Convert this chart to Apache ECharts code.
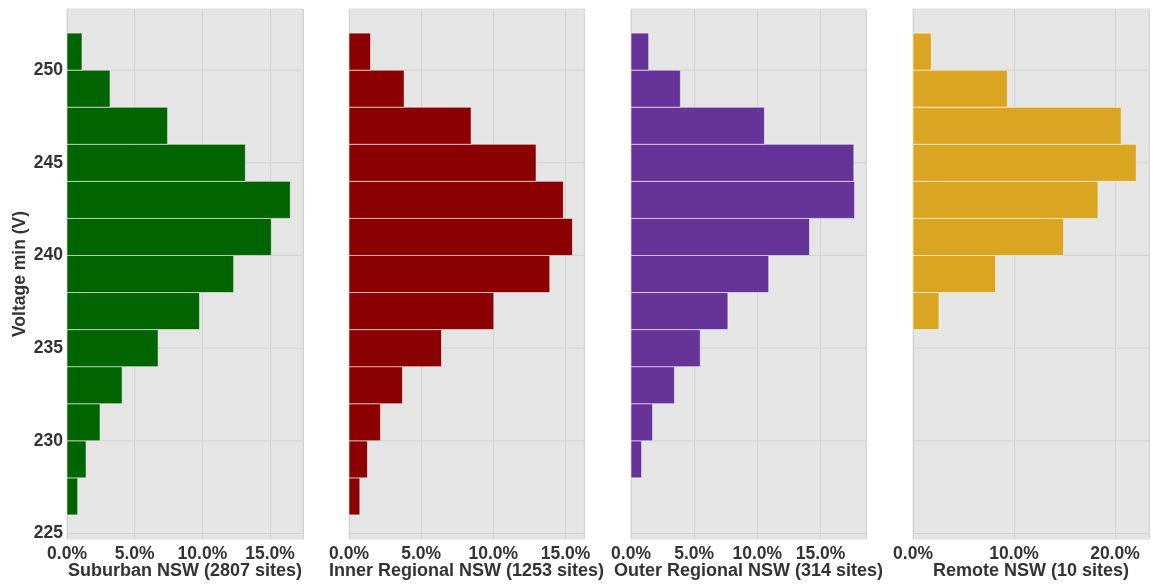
<!DOCTYPE html>
<html>
<head>
<meta charset="utf-8">
<script src="https://cdn.jsdelivr.net/npm/echarts@6/dist/echarts.min.js"></script>
<style>
  html, body { margin: 0; padding: 0; background: #ffffff; }
  #chart { width: 1153px; height: 585px; }
</style>
</head>
<body>
<div id="chart"></div>
<script>
// Histogram bins of minimum voltage (V), 2 V wide, lower edges
const binEdgesLow = [226, 228, 230, 232, 234, 236, 238, 240, 242, 244, 246, 248, 250];
const binWidth = 2;

// Share of sites (%) per bin, same order as binEdgesLow
const suburban      = [0.79, 1.41, 2.44, 4.07, 6.73, 9.79, 12.31, 15.09, 16.49, 13.17, 7.43, 3.18, 1.11];
const innerRegional = [0.75, 1.28, 2.18, 3.70, 6.41, 10.03, 13.91, 15.48, 14.85, 12.96, 8.46, 3.82, 1.49];
const outerRegional = [0, 0.84, 1.71, 3.44, 5.48, 7.67, 10.90, 14.13, 17.70, 17.64, 10.56, 3.91, 1.40];
const remote        = [0, 0, 0, 0, 0, 2.57, 8.18, 14.91, 18.32, 22.11, 20.62, 9.34, 1.81];

const panelNames = [
  'Suburban NSW (2807 sites)',
  'Inner Regional NSW (1253 sites)',
  'Outer Regional NSW (314 sites)',
  'Remote NSW (10 sites)'
];
const panelValues = [suburban, innerRegional, outerRegional, remote];
const panelColors = ['#006400', '#8b0000', '#663399', '#daa520'];
const xMax = [17.43, 16.28, 18.6, 23.37];
const xStep = [5, 5, 5, 10];

const yTicks = [225, 230, 235, 240, 245, 250];
const yMin = 224.7, yMax = 253.3;

const panelLeft = [67, 349, 631, 913];
const panelWidth = [236, 235, 235, 236];
const panelTop = 9, panelHeight = 530;

const textColor = '#333333';
const fontFamily = '"Liberation Sans", Arial, sans-serif';

const grids = [], xAxes = [], yAxes = [], series = [];

panelValues.forEach(function (vals, i) {
  grids.push({
    left: panelLeft[i], top: panelTop, width: panelWidth[i], height: panelHeight,
    outerBoundsMode: 'none', containLabel: false,
    show: true, backgroundColor: '#e5e5e5', borderColor: '#dedede', borderWidth: 1
  });
  xAxes.push({
    gridIndex: i, type: 'value', min: 0, max: xMax[i], interval: xStep[i],
    name: panelNames[i], nameLocation: 'middle', nameGap: 23, nameMoveOverlap: false,
    nameTextStyle: { color: textColor, fontSize: 18, fontWeight: 'bold', fontFamily: fontFamily },
    axisLine: { show: false }, axisTick: { show: false },
    axisLabel: {
      color: textColor, fontSize: 17.5, fontWeight: 'bold', fontFamily: fontFamily, margin: 6,
      showMaxLabel: false,
      formatter: function (v) { return v.toFixed(1) + '%'; }
    },
    splitLine: { show: true, lineStyle: { color: '#d2d2d2', width: 1 } }
  });
  yAxes.push({
    gridIndex: i, type: 'value', min: yMin, max: yMax,
    name: i === 0 ? 'Voltage min (V)' : '', nameLocation: 'middle', nameGap: 38, nameRotate: 90,
    nameMoveOverlap: false,
    nameTextStyle: { color: textColor, fontSize: 17.5, fontWeight: 'bold', fontFamily: fontFamily },
    axisLine: { show: false }, axisTick: { show: false },
    axisLabel: {
      show: i === 0, color: textColor, fontSize: 17.5, fontWeight: 'bold', fontFamily: fontFamily, margin: 4,
      customValues: yTicks, padding: [3, 0, 0, 0]
    },
    splitLine: { show: false }
  });
  // horizontal grid lines at the voltage ticks
  series.push({
    type: 'custom', xAxisIndex: i, yAxisIndex: i, silent: true, z: 1,
    data: yTicks.map(function (t) { return [t]; }),
    renderItem: function (params, api) {
      const y = api.coord([0, api.value(0)])[1];
      const cs = params.coordSys;
      return {
        type: 'line',
        shape: { x1: cs.x, y1: y, x2: cs.x + cs.width, y2: y },
        style: { stroke: '#d2d2d2', lineWidth: 1 }
      };
    }
  });
  // histogram bars
  series.push({
    type: 'custom', xAxisIndex: i, yAxisIndex: i, z: 3,
    data: vals.map(function (v, k) { return [v, binEdgesLow[k], binEdgesLow[k] + binWidth]; })
              .filter(function (d) { return d[0] > 0; }),
    encode: { x: 0, y: [1, 2] },
    renderItem: function (params, api) {
      const p0 = api.coord([0, api.value(2)]);
      const p1 = api.coord([api.value(0), api.value(1)]);
      return {
        type: 'rect',
        shape: { x: p0[0], y: p0[1], width: p1[0] - p0[0], height: p1[1] - p0[1] },
        style: { fill: panelColors[i], stroke: 'rgba(255,255,255,0.55)', lineWidth: 1 }
      };
    }
  });
});

const chart = echarts.init(document.getElementById('chart'), null, { renderer: 'canvas' });
chart.setOption({
  animation: false,
  backgroundColor: '#ffffff',
  grid: grids,
  xAxis: xAxes,
  yAxis: yAxes,
  series: series
});
</script>
</body>
</html>
